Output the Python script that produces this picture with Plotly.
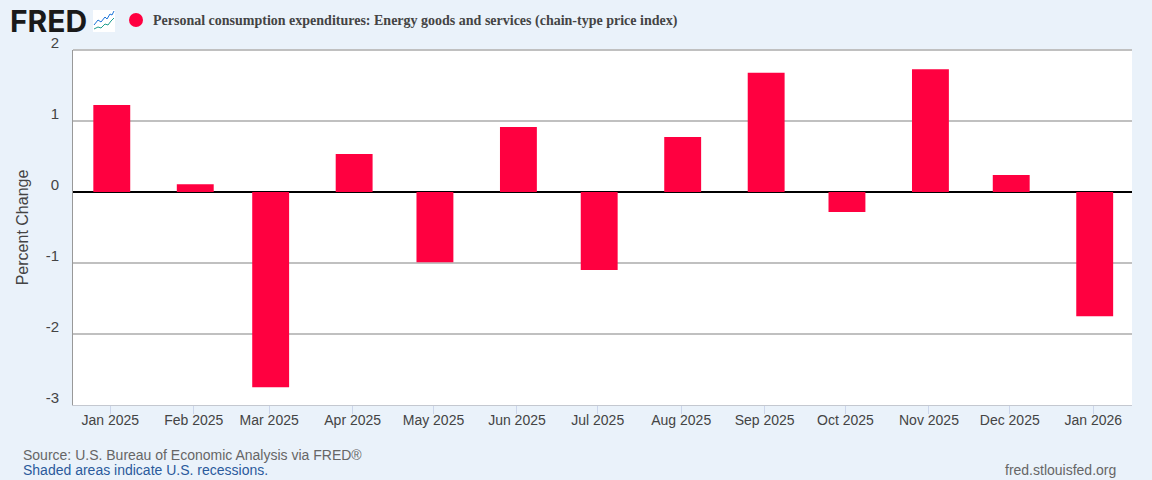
import base64
import plotly.graph_objects as go

dates = ["2025-01-01", "2025-02-01", "2025-03-01", "2025-04-01", "2025-05-01", "2025-06-01", "2025-07-01",
         "2025-08-01", "2025-09-01", "2025-10-01", "2025-11-01", "2025-12-01", "2026-01-01"]
tick_labels = ["Jan 2025", "Feb 2025", "Mar 2025", "Apr 2025", "May 2025", "Jun 2025", "Jul 2025",
               "Aug 2025", "Sep 2025", "Oct 2025", "Nov 2025", "Dec 2025", "Jan 2026"]
values = [1.225, 0.11, -2.75, 0.535, -0.99, 0.915, -1.10, 0.775, 1.68, -0.28, 1.73, 0.24, -1.75]
y_ticks = [-3, -2, -1, 0, 1, 2]
series_name = "Personal consumption expenditures: Energy goods and services (chain-type price index)"

RED = "#ff0040"
BG = "#eaf2fa"
W, H = 1152, 480
L, R, T, B = 73, 1132, 50, 405
DAY_MS = 86400000
BAR_DAYS = 13.7
BAR_SHIFT_DAYS = 0.55

icon = """<svg xmlns='http://www.w3.org/2000/svg' viewBox='0 0 22 22'>
<rect width='22' height='22' fill='#ffffff'/>
<polyline points='1,15 5,10 8,12 12,7 14,9 17,4 19,5 21,1' fill='none' stroke='#1a73d9' stroke-width='1'/>
<polyline points='1,19 5,17 8,18 12,14 15,15 18,11 21,8' fill='none' stroke='#1f9e8f' stroke-width='1'/>
</svg>"""
icon_uri = "data:image/svg+xml;base64," + base64.b64encode(icon.encode()).decode()

fig = go.Figure(go.Bar(x=dates, y=values, width=BAR_DAYS * DAY_MS,
                       offset=(-BAR_DAYS / 2 + BAR_SHIFT_DAYS) * DAY_MS,
                       marker=dict(color=RED, line=dict(width=0)),
                       showlegend=False, hoverinfo="x+y"))

def px(x): return (x - L) / (R - L)
def py(y): return 1 - (y - T) / (B - T)

fig.update_layout(
    width=W, height=H, autosize=False,
    margin=dict(l=L, r=W - R, t=T, b=H - B, pad=0),
    paper_bgcolor=BG, plot_bgcolor="#ffffff",
    font=dict(family="Liberation Sans, Arial, sans-serif", size=14, color="#444444"),
    xaxis=dict(type="date", range=["2024-12-18 03:36", "2026-01-15 09:36"],
               tickmode="array", tickvals=dates, ticktext=tick_labels, showgrid=False, zeroline=False,
               ticks="outside", ticklen=8, tickwidth=1, tickcolor="#ccd6eb",
               showline=True, linecolor="#c4c8d0", linewidth=1, ticklabelstandoff=-6,
               tickfont=dict(size=14, color="#444444")),
    yaxis=dict(range=[-3, 2], tickmode="array", tickvals=y_ticks, ticktext=[str(v) for v in y_ticks],
               showgrid=True, gridcolor="#c0c0c0", gridwidth=2,
               zeroline=True, zerolinecolor="#000000", zerolinewidth=2,
               ticks="", showline=True, linecolor="#999999", linewidth=1, ticklabelshift=-7, ticklabelstandoff=10,
               tickfont=dict(size=15, color="#444444"),
               title=dict(text="Percent Change", font=dict(size=16, color="#444444"), standoff=13)),
    images=[dict(source=icon_uri, xref="paper", yref="paper", x=px(93), y=py(10), sizex=22 / (R - L), sizey=22 / (B - T),
                 xanchor="left", yanchor="top", layer="above", sizing="stretch")],
    shapes=[dict(type="circle", xref="paper", yref="paper", x0=px(129), x1=px(143), y0=py(27), y1=py(13),
                 fillcolor=RED, line=dict(width=0), layer="above"),
            dict(type="line", xref="paper", yref="paper", x0=px(L), x1=px(R), y0=py(T), y1=py(T),
                 line=dict(color="#c0c0c0", width=2), layer="above")],
    annotations=[
        dict(text="<b>FRED</b>", xref="paper", yref="paper", x=px(8), y=py(21), xanchor="left", yanchor="middle",
             showarrow=False, font=dict(family="Inter, Liberation Sans, sans-serif", size=30, color="#1a1a1a", weight=900)),
        dict(text="<b>" + series_name + "</b>", xref="paper", yref="paper", x=px(151), y=py(21.5), xanchor="left",
             yanchor="middle", showarrow=False,
             font=dict(family="Liberation Serif, Times New Roman, serif", size=14, color="#444444")),
        dict(text="Source: U.S. Bureau of Economic Analysis via FRED®", xref="paper", yref="paper", x=px(21), y=py(455),
             xanchor="left", yanchor="middle", showarrow=False, font=dict(size=14, color="#666666")),
        dict(text="Shaded areas indicate U.S. recessions.", xref="paper", yref="paper", x=px(21), y=py(470),
             xanchor="left", yanchor="middle", showarrow=False, font=dict(size=14, color="#2a5a9c")),
        dict(text="fred.stlouisfed.org", xref="paper", yref="paper", x=px(1118), y=py(470), xanchor="right",
             yanchor="middle", showarrow=False, font=dict(size=14, color="#666666")),
    ],
)
fig.write_html("out.html", config={"displayModeBar": False},
               post_script="document.body.style.margin='0';document.body.style.background='" + BG + "';")
